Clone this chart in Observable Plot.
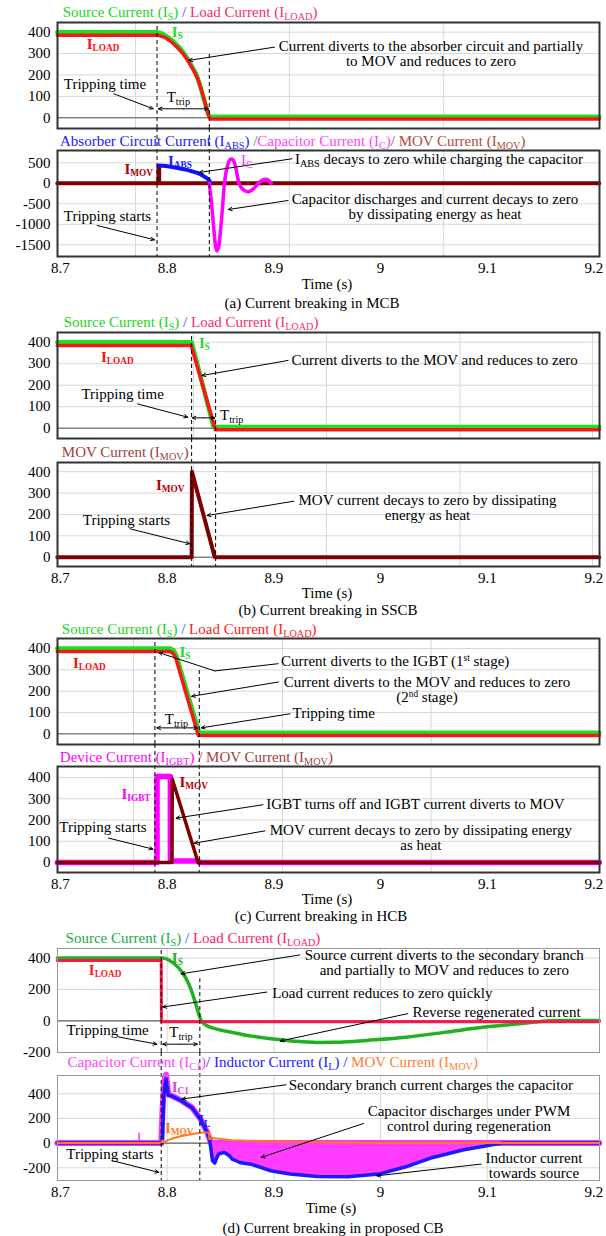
<!DOCTYPE html>
<html><head><meta charset="utf-8">
<script src="https://cdn.jsdelivr.net/npm/d3@7"></script>
<script src="https://cdn.jsdelivr.net/npm/@observablehq/plot@0.6"></script>
<style>
body{margin:0;background:#fff;}
#fig{position:relative;width:606px;height:1236px;font-family:"Liberation Serif","Times New Roman",Times,"Nimbus Roman","DejaVu Serif",serif;font-size:15px;color:#000;overflow:hidden;background:#fff;}
.lbl{position:absolute;white-space:nowrap;line-height:15px;}
.s{font-size:0.68em;vertical-align:-0.3em;line-height:0;}
.sup{font-size:0.62em;vertical-align:0.5em;line-height:0;}
.lab{font-weight:bold;font-size:15px;}
.lab .s{font-size:0.62em;}
</style></head><body><div id="fig"></div><script>
// ---------- shared axis data ----------
const xTicks = [8.7, 8.8, 8.9, 9, 9.1, 9.2];
const ticksUpper = [0, 100, 200, 300, 400];
const ticksMcbLower = [-1500, -1000, -500, 0, 500];
const ticksProposed = [-200, 0, 200, 400];
const gridTimesA = [8.7703, 8.9146, 9.0592];
const gridTimesB = [8.8247, 8.9493, 9.0744, 9.1986];
const gridTimesC = [8.7684, 8.908, 9.0473];
const gridTimesD = [8.8, 8.9, 9.0, 9.1];

// ---------- (a) MCB ----------
const mcbSource = [[8.697,400],[8.7905,400],[8.7935,396],[8.798,385],[8.803,368],[8.8085,343],[8.8139,314],[8.8211,259],[8.8283,189],[8.8337,100],[8.8375,35],[8.8395,5],[9.205,5]];
const mcbLoad = [[8.697,385],[8.7905,385],[8.794,382],[8.799,372],[8.804,354],[8.8095,328],[8.815,298],[8.822,245],[8.8293,172],[8.8345,88],[8.838,25],[8.8405,-6],[9.205,-6]];
const mcbMov = [[8.697,0],[8.7918,0],[8.7918,420],[8.7925,420],[8.7925,0],[9.205,0]];
const mcbAbs = [[8.7921,435],[8.7985,420],[8.8048,395],[8.811,368],[8.8174,333],[8.823,295],[8.8283,252],[8.834,175],[8.8392,75],[8.8405,0]];
const mcbCap = [[8.8395,0],[8.842,-600],[8.844,-1200],[8.8455,-1550],[8.8466,-1650],[8.848,-1580],[8.85,-1150],[8.852,-550],[8.8537,0],[8.856,380],[8.8585,560],[8.8602,595],[8.862,560],[8.8645,350],[8.8674,0],[8.8705,-140],[8.874,-195],[8.8771,-200],[8.881,-130],[8.8856,0],[8.889,70],[8.8934,95],[8.8955,60],[8.8975,0]];
const mcbTrips = [{t:8.7905, from:445},{t:8.8395, from:306}];

// ---------- (b) SSCB ----------
const sscbSource = [[8.697,400],[8.8229,400],[8.8435,5],[9.205,5]];
const sscbLoad = [[8.697,385],[8.8225,385],[8.8452,-7],[9.205,-7]];
const sscbMov = [[8.697,0],[8.8229,0],[8.8232,400],[8.8446,0],[9.205,0]];
const sscbTrips = [{t:8.8229, from:445},{t:8.8454, from:301}];

// ---------- (c) HCB ----------
const hcbSource = [[8.697,400],[8.803,400],[8.806,392],[8.8085,368],[8.830,5],[9.205,5]];
const hcbLoad = [[8.697,386],[8.8025,386],[8.8055,378],[8.808,355],[8.8292,-8],[9.205,-8]];
const hcbIgbt = [[8.697,0],[8.7905,0],[8.7905,405],[8.803,405],[8.803,7],[8.8295,7],[8.830,0],[9.205,0]];
const hcbMov = [[8.697,0],[8.8045,0],[8.8048,392],[8.829,0],[9.205,0]];
const hcbTrips = [{t:8.7885, from:447},{t:8.8301, from:300}];

// ---------- (d) proposed CB ----------
const propSource = [[8.697,400],[8.795,400],[8.7993,394],[8.8066,363],[8.8139,311],[8.8193,249],[8.8246,155],[8.8283,73],[8.832,0],[8.8374,-31],[8.8464,-52],[8.8609,-73],[8.879,-97],[8.8971,-114],[8.9187,-129],[8.9405,-137],[8.9622,-136],[8.9875,-124],[9.0237,-104],[9.0599,-73],[9.0961,-41],[9.1322,-17],[9.1503,-4],[9.1684,2],[9.205,2]];
const propLoad = [[8.697,384],[8.7944,384],[8.7946,-6],[9.205,-6]];
const propCap = [[8.697,0],[8.7944,0],[8.7958,300],[8.7968,430],[8.798,540],[8.799,555],[8.800,480],[8.801,395],[8.8044,384],[8.8139,342],[8.8233,289],[8.8312,195],[8.8376,87],[8.8398,32],[8.841,0],[9.205,0]];
const propCapGlitch = [[8.7736,0],[8.7737,80],[8.7738,0]];
const propInductor = [[8.697,0],[8.7955,0],[8.7968,380],[8.798,470],[8.799,520],[8.800,450],[8.801,390],[8.8044,382],[8.8139,340],[8.8233,287],[8.8312,193],[8.8376,85],[8.8398,30],[8.841,-49],[8.8425,-143],[8.8446,-162],[8.8464,-120],[8.8482,-89],[8.851,-80],[8.8537,-76],[8.858,-100],[8.8609,-130],[8.865,-145],[8.8681,-157],[8.8735,-165],[8.879,-172],[8.8971,-224],[8.9152,-251],[8.9405,-270],[8.9694,-273],[8.9984,-251],[9.0237,-192],[9.049,-116],[9.078,-54],[9.1141,0],[9.205,0]];
const propMov = [[8.697,0],[8.7944,0],[8.7958,22],[8.797,6],[8.800,22],[8.805,38],[8.8125,55],[8.82,68],[8.828,80],[8.835,87],[8.8392,87],[8.8395,32],[8.8425,42],[8.8464,38],[8.8609,24],[8.8971,14],[8.9512,6],[9.0,0],[9.205,0]];
const propCapDischargeStart = 8.841;
const propTrips = [{t:8.7944, from:460},{t:8.8306, from:267}];

// ---------- layout helpers ----------
const fig = document.getElementById("fig");
const FONT = '"Liberation Serif","Times New Roman",Times,"Nimbus Roman","DejaVu Serif",serif';
const X0 = 8.6972, X1 = 9.2052, W = 606, ML = 57, MR = 7, AXB = 30;
const I = (s) => `I<span class="s">${s}</span>`;
const Tt = `T<span class="s">trip</span>`;

function addHTML(html, left, top, anchor, cls, color) {
  const d = document.createElement("div");
  d.className = "lbl" + (cls ? " " + cls : "");
  d.innerHTML = html;
  d.style.left = left + "px";
  d.style.top = top + "px";
  const tx = anchor === "middle" ? "-50%" : anchor === "end" ? "-100%" : "0";
  d.style.transform = `translate(${tx},-50%)`;
  if (anchor === "middle") d.style.textAlign = "center";
  if (color) d.style.color = color;
  fig.appendChild(d);
}

function subplot(cfg) {
  const {top, h, yDomain, yTicks, grid, frameColor, frameWidth, zeroColor, series, trips, isTop, gap, arrows = [], leaders = [], ttrip, notes = []} = cfg;
  const height = h + (isTop ? 0 : AXB);
  const marks = [
    Plot.gridY(yTicks, {stroke: "#d8d8d8", strokeOpacity: 1, strokeWidth: 1}),
    Plot.ruleX(grid, {stroke: "#d8d8d8", strokeWidth: 1}),
    Plot.ruleY([0], {stroke: zeroColor, strokeWidth: 1})
  ];
  for (const s of series) {
    if (s.area) {
      marks.push(Plot.areaY(s.data, {x: d => d[0], y1: 0, y2: d => d[1], fill: s.color, fillOpacity: 1}));
    } else {
      marks.push(Plot.line(s.data, {x: d => d[0], y: d => d[1], stroke: s.color, strokeWidth: s.w, curve: s.curve || "linear", strokeLinecap: s.cap || "round"}));
    }
  }
  marks.push(isTop
    ? Plot.ruleX(trips, {x: d => d.t, y1: yDomain[0], y2: d => d.from, stroke: "#000", strokeWidth: 1, strokeDasharray: "4,3"})
    : Plot.ruleX(trips, {x: d => d.t, insetTop: -gap, stroke: "#000", strokeWidth: 1, strokeDasharray: "4,3"}));
  if (leaders.length) marks.push(Plot.link(leaders, {x1: d => d[0], y1: d => d[1], x2: d => d[2], y2: d => d[3], stroke: "#000", strokeWidth: 1}));
  const allArrows = arrows.slice();
  if (ttrip) {
    const m = (ttrip.t1 + ttrip.t2) / 2;
    allArrows.push([m, ttrip.v, ttrip.t1, ttrip.v], [m, ttrip.v, ttrip.t2, ttrip.v]);
  }
  marks.push(Plot.arrow(allArrows, {x1: d => d[0], y1: d => d[1], x2: d => d[2], y2: d => d[3], stroke: "#000", strokeWidth: 1, headLength: 6, headAngle: 50}));
  marks.push(Plot.frame({stroke: frameColor, strokeWidth: frameWidth}));
  marks.push(Plot.axisY(yTicks, {tickSize: 0, tickPadding: 7, tickFormat: d => String(d), label: null}));
  if (!isTop) marks.push(Plot.axisX(xTicks, {tickSize: 0, tickPadding: 6, tickFormat: d => String(d), label: null}));
  const svg = Plot.plot({
    width: W, height,
    marginLeft: ML, marginRight: MR, marginTop: 0, marginBottom: isTop ? 0 : AXB,
    x: {domain: [X0, X1], axis: isTop ? null : undefined},
    y: {domain: yDomain},
    style: {background: "transparent", overflow: "visible", fontFamily: FONT, fontSize: "15px", color: "#000"},
    marks
  });
  svg.style.position = "absolute";
  svg.style.left = "0px";
  svg.style.top = top + "px";
  fig.appendChild(svg);
  const sx = d3.scaleLinear().domain([X0, X1]).range([ML, W - MR]);
  const sy = d3.scaleLinear().domain(yDomain).range([top + h, top]);
  for (const n of notes) addHTML(n.html, sx(n.t), sy(n.v), n.a || "start", n.cls, n.color);
}

// ---------- titles, axis titles, captions ----------
const green = "#1ed41e", slash = "#4444ff", pink = "#f5306a", moc = "#b04a44";
const texts = [
  {x: 62.7, y: 12, a: "start", html: `<span style="color:${green}">Source Current (${I("S")})</span> <span style="color:${slash}">/</span> <span style="color:${pink}">Load Current (${I("LOAD")})</span>`},
  {x: 60, y: 140.5, a: "start", html: `<span style="color:#1a1aff">Absorber Circuit Current (${I("ABS")})</span> <span style="color:#2f9f5f">/</span><span style="color:#ff44ff">Capacitor Current (${I("C")})</span><span style="color:${moc}">/ MOV Current (${I("MOV")})</span>`},
  {x: 327, y: 284, a: "middle", html: "Time (s)"},
  {x: 312, y: 303, a: "middle", html: "(a) Current breaking in MCB"},
  {x: 63.7, y: 321.7, a: "start", html: `<span style="color:${green}">Source Current (${I("S")})</span> <span style="color:${slash}">/</span> <span style="color:${pink}">Load Current (${I("LOAD")})</span>`},
  {x: 61.8, y: 451.7, a: "start", html: `<span style="color:#a04040">MOV Current (${I("MOV")})</span>`},
  {x: 327, y: 593.3, a: "middle", html: "Time (s)"},
  {x: 328, y: 610, a: "middle", html: "(b) Current breaking in SSCB"},
  {x: 61.8, y: 629.3, a: "start", html: `<span style="color:${green}">Source Current (${I("S")})</span> <span style="color:${slash}">/</span> <span style="color:#ff2020">Load Current (${I("LOAD")})</span>`},
  {x: 59.8, y: 756.7, a: "start", html: `<span style="color:#ff00ff">Device Current (${I("IGBT")})</span><span style="color:#a04040"> / MOV Current (${I("MOV")})</span>`},
  {x: 327, y: 899, a: "middle", html: "Time (s)"},
  {x: 321, y: 916, a: "middle", html: "(c) Current breaking in HCB"},
  {x: 65.6, y: 937.7, a: "start", html: `<span style="color:#22aa44">Source Current (${I("S")})</span> <span style="color:${slash}">/</span> <span style="color:#ff2266">Load Current (${I("LOAD")})</span>`},
  {x: 67.6, y: 1062.3, a: "start", html: `<span style="color:#ff44ff">Capacitor Current (${I("C1")})</span><span style="color:#1a1aff">/ Inductor Current (${I("L")}) /</span><span style="color:#ff8030"> MOV Current (${I("MOV")})</span>`},
  {x: 331, y: 1208.3, a: "middle", html: "Time (s)"},
  {x: 333, y: 1228.3, a: "middle", html: "(d) Current breaking in proposed CB"}
];

// ---------- panels ----------
const G = "#1ee01e", R = "#f51818", DR = "#7f0000", BL = "#1010ff", MG = "#ff00ff";

subplot({top: 22, h: 106, yDomain: [-50, 445], yTicks: ticksUpper, grid: gridTimesA, frameColor: "#333", frameWidth: 2, zeroColor: "#555", isTop: true,
  series: [{data: mcbSource, color: G, w: 4.5, curve: "monotone-x"}, {data: mcbLoad, color: R, w: 3.5, curve: "monotone-x"}],
  trips: mcbTrips,
  arrows: [[8.9006, 330, 8.8203, 268], [8.75, 112, 8.7869, 42]],
  ttrip: {t1: 8.7918, t2: 8.8385, v: 42},
  notes: [
    {t: 8.725, v: 341, html: I("LOAD"), cls: "lab", color: "#ff1010"},
    {t: 8.8047, v: 397, html: I("S"), cls: "lab", color: "#22dd22"},
    {t: 9.0477, v: 295, a: "middle", html: "Current diverts to the absorber circuit and partially<br>to MOV and reduces to zero"},
    {t: 8.7422, v: 156, a: "middle", html: "Tripping time"},
    {t: 8.80, v: 95, html: Tt}
  ]});

subplot({top: 150, h: 106, yDomain: [-1785, 800], yTicks: ticksMcbLower, grid: gridTimesA, frameColor: "#333", frameWidth: 2, zeroColor: "#555", isTop: false, gap: 22,
  series: [{data: mcbMov, color: DR, w: 4}, {data: mcbAbs, color: BL, w: 4, curve: "monotone-x"}, {data: mcbCap, color: MG, w: 3.5, curve: "catmull-rom"}],
  trips: mcbTrips,
  arrows: [[8.917, 598, 8.8301, 265], [8.9133, -420, 8.8573, -639], [8.7344, -1029, 8.7881, -1378]],
  notes: [
    {t: 8.7872, v: 329, a: "end", html: I("MOV"), cls: "lab", color: "#b00000"},
    {t: 8.8012, v: 532, html: I("ABS"), cls: "lab", color: "#1a1aff"},
    {t: 8.8696, v: 556, html: I("C"), color: "#ff33ff"},
    {t: 8.9202, v: 573, html: `${I("ABS")} decays to zero while charging the capacitor`},
    {t: 9.0515, v: -602, a: "middle", html: "Capacitor discharges and current decays to zero<br>by dissipating energy as heat"},
    {t: 8.7445, v: -810, a: "middle", html: "Tripping starts"}
  ]});

subplot({top: 332, h: 106, yDomain: [-48, 445], yTicks: ticksUpper, grid: gridTimesB, frameColor: "#333", frameWidth: 2, zeroColor: "#555", isTop: true,
  series: [{data: sscbSource, color: G, w: 4.5}, {data: sscbLoad, color: R, w: 3.5}],
  trips: sscbTrips,
  arrows: [[8.9133, 315, 8.8326, 245], [8.7722, 113, 8.8193, 51]],
  ttrip: {t1: 8.8236, t2: 8.8446, v: 48},
  notes: [
    {t: 8.7384, v: 330, html: I("LOAD"), cls: "lab", color: "#ff1010"},
    {t: 8.8303, v: 393, html: I("S"), cls: "lab", color: "#22dd22"},
    {t: 8.917, v: 315, html: "Current diverts to the MOV and reduces to zero"},
    {t: 8.7587, v: 157, a: "middle", html: "Tripping time"},
    {t: 8.85, v: 59, html: Tt}
  ]});

subplot({top: 462, h: 104, yDomain: [-43.5, 443], yTicks: ticksUpper, grid: gridTimesB, frameColor: "#333", frameWidth: 2, zeroColor: "#555", isTop: false, gap: 24,
  series: [{data: sscbMov, color: DR, w: 4}],
  trips: sscbTrips,
  arrows: [[8.9187, 262, 8.8374, 195], [8.765, 133, 8.8211, 63]],
  notes: [
    {t: 8.79, v: 335, html: I("MOV"), cls: "lab", color: "#b00000"},
    {t: 9.0445, v: 230, a: "middle", html: "MOV current decays to zero by dissipating<br>energy as heat"},
    {t: 8.7623, v: 171, a: "middle", html: "Tripping starts"}
  ]});

subplot({top: 638, h: 106, yDomain: [-50, 447], yTicks: ticksUpper, grid: gridTimesC, frameColor: "#333", frameWidth: 2, zeroColor: "#555", isTop: true,
  series: [{data: hcbSource, color: G, w: 4.5}, {data: hcbLoad, color: R, w: 3.5}],
  trips: hcbTrips,
  leaders: [[8.9043, 329, 8.8446, 295]],
  arrows: [[8.8446, 295, 8.7921, 381], [8.9043, 243, 8.8229, 176], [8.9152, 94, 8.832, 28]],
  ttrip: {t1: 8.7903, t2: 8.8283, v: 28},
  notes: [
    {t: 8.7122, v: 332, html: I("LOAD"), cls: "lab", color: "#ff1010"},
    {t: 8.812, v: 381, html: I("S"), cls: "lab", color: "#22dd22"},
    {t: 8.9071, v: 337, html: `Current diverts to the IGBT (1<span class="sup">st</span> stage)`},
    {t: 9.044, v: 205, a: "middle", html: `Current diverts to the MOV and reduces to zero<br>(2<span class="sup">nd</span> stage)`},
    {t: 8.918, v: 97, html: "Tripping time"},
    {t: 8.8092, v: 66, a: "middle", html: Tt}
  ]});

subplot({top: 766, h: 106, yDomain: [-47, 452], yTicks: ticksUpper, grid: gridTimesC, frameColor: "#333", frameWidth: 2, zeroColor: "#555", isTop: false, gap: 22,
  series: [{data: hcbIgbt, color: MG, w: 5.5}, {data: hcbMov, color: DR, w: 3.5}],
  trips: hcbTrips,
  arrows: [[8.8898, 272, 8.8084, 209], [8.8917, 149, 8.8254, 91], [8.745, 115, 8.7867, 63]],
  notes: [
    {t: 8.7849, v: 319, a: "end", html: I("IGBT"), cls: "lab", color: "#ff00ff"},
    {t: 8.812, v: 376, html: I("MOV"), cls: "lab", color: "#b00000"},
    {t: 8.8934, v: 272, html: "IGBT turns off and IGBT current diverts to MOV"},
    {t: 9.0383, v: 115, a: "middle", html: "MOV current decays to zero by dissipating energy<br>as heat"},
    {t: 8.7403, v: 165, a: "middle", html: "Tripping starts"}
  ]});

subplot({top: 948, h: 104, yDomain: [-201, 460], yTicks: ticksProposed, grid: gridTimesD, frameColor: "#999", frameWidth: 1, zeroColor: "#444", isTop: true,
  series: [{data: propSource, color: "#22b022", w: 3.5, curve: "monotone-x"}, {data: propLoad, color: "#f81848", w: 3}],
  trips: propTrips,
  arrows: [[8.9242, 419, 8.8131, 299], [8.8934, 183, 8.7958, 88], [9.0255, 46, 8.9061, -128], [8.7542, -102, 8.7903, -148]],
  ttrip: {t1: 8.7958, t2: 8.8283, v: -148},
  notes: [
    {t: 8.727, v: 320, html: I("LOAD"), cls: "lab", color: "#ff1a1a"},
    {t: 8.8048, v: 394, html: I("S"), cls: "lab", color: "#22b022"},
    {t: 9.0602, v: 367, a: "middle", html: "Source current diverts to the secondary branch<br>and partially to MOV and reduces to zero"},
    {t: 8.8989, v: 172, html: "Load current reduces to zero quickly"},
    {t: 9.0303, v: 52, html: "Reverse regenerated current"},
    {t: 8.706, v: -59, html: "Tripping time"},
    {t: 8.8134, v: -74, a: "middle", html: Tt}
  ]});

subplot({top: 1075, h: 105, yDomain: [-303, 548], yTicks: ticksProposed, grid: gridTimesD, frameColor: "#999", frameWidth: 1, zeroColor: "#444", isTop: false, gap: 23,
  series: [
    {data: propCap, color: "#ff33ff", w: 6},
    {data: propCapGlitch, color: "#ff33ff", w: 1.5, cap: "butt"},
    {data: propInductor.filter(d => d[0] >= propCapDischargeStart), color: "#ff3cff", area: true},
    {data: propInductor, color: "#1a1aff", w: 3.5},
    {data: propMov, color: "#ff7a1a", w: 2}
  ],
  trips: propTrips,
  arrows: [[8.9115, 473, 8.8139, 357], [8.984, 159, 8.888, -116], [9.0943, -170, 8.9965, -265], [8.7487, -143, 8.7921, -237]],
  notes: [
    {t: 8.8047, v: 452, html: I("C1"), cls: "lab", color: "#e040e0"},
    {t: 8.7984, v: 119, html: I("MOV"), cls: "lab", color: "#ff7a1a"},
    {t: 8.8296, v: 181, html: I("L"), cls: "lab", color: "#1a1aff"},
    {t: 8.9144, v: 465, html: "Secondary branch current charges the capacitor"},
    {t: 9.0833, v: 191, a: "middle", html: "Capacitor discharges under PWM<br>control during regeneration"},
    {t: 9.1442, v: -188, a: "middle", html: "Inductor current<br>towards source"},
    {t: 8.7469, v: -89, a: "middle", html: "Tripping starts"}
  ]});

for (const t of texts) addHTML(t.html, t.x, t.y, t.a);
</script></body></html>
